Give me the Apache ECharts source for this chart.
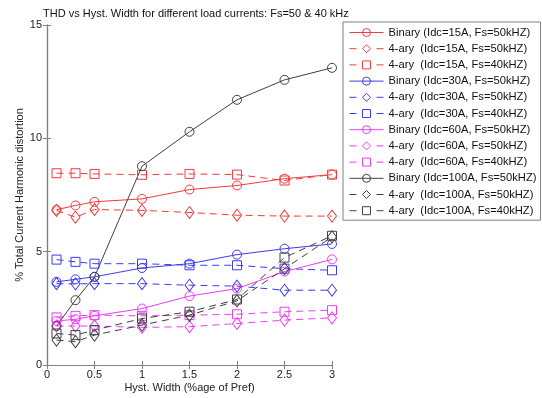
<!DOCTYPE html>
<html><head><meta charset="utf-8">
<script src="https://cdn.jsdelivr.net/npm/echarts@6/dist/echarts.min.js"></script>
<style>html,body{margin:0;padding:0;background:#fff}#c{width:542px;height:398px}</style>
</head><body><div id="c"></div>
<script>
const hyst = [0.1, 0.3, 0.5, 1, 1.5, 2, 2.5, 3];
const xTicks = ['0', '0.5', '1', '1.5', '2', '2.5', '3'];
const yTicks = ['0', '5', '10', '15'];

const bin15  = [6.85, 7.04, 7.20, 7.33, 7.74, 7.92, 8.22, 8.40];
const q15_50 = [6.82, 6.52, 6.86, 6.82, 6.73, 6.61, 6.57, 6.57];
const q15_40 = [8.46, 8.46, 8.43, 8.39, 8.43, 8.40, 8.14, 8.40];
const bin30  = [3.67, 3.78, 3.89, 4.28, 4.47, 4.87, 5.13, 5.34];
const q30_50 = [3.59, 3.58, 3.59, 3.59, 3.52, 3.48, 3.30, 3.30];
const q30_40 = [4.65, 4.55, 4.47, 4.47, 4.40, 4.40, 4.25, 4.18];
const bin60  = [1.94, 2.02, 2.17, 2.49, 3.04, 3.37, 4.12, 4.66];
const q60_50 = [1.72, 1.72, 1.72, 1.66, 1.69, 1.83, 1.98, 2.08];
const q60_40 = [2.10, 2.17, 2.20, 2.17, 2.20, 2.24, 2.35, 2.42];
const bin100 = [1.72, 2.86, 3.89, 8.77, 10.29, 11.70, 12.58, 13.11];
const q100_50= [1.10, 1.03, 1.32, 1.76, 2.20, 2.83, 4.25, 5.65];
const q100_40= [1.39, 1.32, 1.54, 2.05, 2.35, 2.89, 4.74, 5.70];

const names = [
 'Binary (Idc=15A, Fs=50kHZ)', '4-ary  (Idc=15A, Fs=50kHZ)', '4-ary  (Idc=15A, Fs=40kHZ)',
 'Binary (Idc=30A, Fs=50kHZ)', '4-ary  (Idc=30A, Fs=50kHZ)', '4-ary  (Idc=30A, Fs=40kHZ)',
 'Binary (Idc=60A, Fs=50kHZ)', '4-ary  (Idc=60A, Fs=50kHZ)', '4-ary  (Idc=60A, Fs=40kHZ)',
 'Binary (Idc=100A, Fs=50kHZ)', '4-ary  (Idc=100A, Fs=50kHZ)', '4-ary  (Idc=100A, Fs=40kHZ)'
];
const dataSets = [bin15,q15_50,q15_40,bin30,q30_50,q30_40,bin60,q60_50,q60_40,bin100,q100_50,q100_40];
const colors = ['#f03c3c','#3c3cf0','#f03cf0','#404040'];
const syms = ['circle','diamond','rect'];
const symSizes = [9,[9,12],9];

const series = dataSets.map((d,i)=>{
  const g = Math.floor(i/3), k = i%3;
  const c = colors[g];
  return {
    name: names[i], type:'line', data: d.map((v,j)=>[hyst[j], v]),
    symbol: syms[k], symbolSize: symSizes[k], showAllSymbol:true,
    lineStyle:{color:c, width:1, type: k===0 ? 'solid' : [7,5]},
    itemStyle:{color:'rgba(255,255,255,0)', borderColor:c, borderWidth:1},
    emphasis:{disabled:true}, animation:false
  };
});
const legendData = names.map((n,i)=>{
  const g = Math.floor(i/3), k = i%3, c = colors[g];
  return {name:n,
    itemStyle:{color:'rgba(255,255,255,0)', borderColor:c, borderWidth:1},
    lineStyle:{color:c, width:1, type: k===0 ? 'solid' : [7,20]}};
});

const lbl = {color:'#222', fontSize:11, fontFamily:'Liberation Sans, Arial'};
const ax = {lineStyle:{color:'#808080', width:1.2}};
const chart = echarts.init(document.getElementById('c'));
chart.setOption({
  backgroundColor:'#fff',
  animation:false,
  title:{text:'THD vs Hyst. Width for different load currents: Fs=50 & 40 kHz', left:38, top:3,
    textStyle:{fontSize:11, fontWeight:'normal', color:'#111', fontFamily:'Liberation Sans, Arial'}},
  grid:{left:47, right:210, top:25, bottom:33, containLabel:false, outerBoundsMode:'none'},
  legend:{orient:'vertical', left:343, top:22, itemWidth:34, itemHeight:10, itemGap:5.2,
    padding:[5,4,4,6], borderColor:'#808080', borderWidth:1, backgroundColor:'#fff',
    textStyle:{fontSize:11.2, color:'#111', fontFamily:'Liberation Sans, Arial'}, data:legendData},
  xAxis:[
   {type:'value', min:0, max:3, interval:0.5, position:'bottom',
    name:'Hyst. Width (%age of Pref)', nameLocation:'middle', nameGap:17, nameMoveOverlap:false,
    nameTextStyle:lbl, axisLine:ax,
    axisTick:{inside:true, length:4, lineStyle:{color:'#808080'}},
    axisLabel:Object.assign({margin:4, formatter:(v)=>xTicks[Math.round(v*2)]}, lbl), splitLine:{show:false}},
   {type:'value', min:0, max:3, interval:0.5, position:'top', axisLine:ax,
    axisTick:{inside:true, length:4, lineStyle:{color:'#808080'}}, axisLabel:{show:false}, splitLine:{show:false}}
  ],
  yAxis:[
   {type:'value', min:0, max:15, interval:5, position:'left',
    name:'% Total Current Harmonic distortion', nameLocation:'middle', nameGap:22, nameRotate:90,
    nameMoveOverlap:false,
    nameTextStyle:lbl, axisLine:ax,
    axisTick:{inside:true, length:4, lineStyle:{color:'#808080'}},
    axisLabel:Object.assign({margin:5, formatter:(v)=>yTicks[Math.round(v/5)]}, lbl), splitLine:{show:false}},
   {type:'value', min:0, max:15, interval:5, position:'right', axisLine:ax,
    axisTick:{inside:true, length:4, lineStyle:{color:'#808080'}}, axisLabel:{show:false}, splitLine:{show:false}}
  ],
  series: series
});
</script></body></html>
